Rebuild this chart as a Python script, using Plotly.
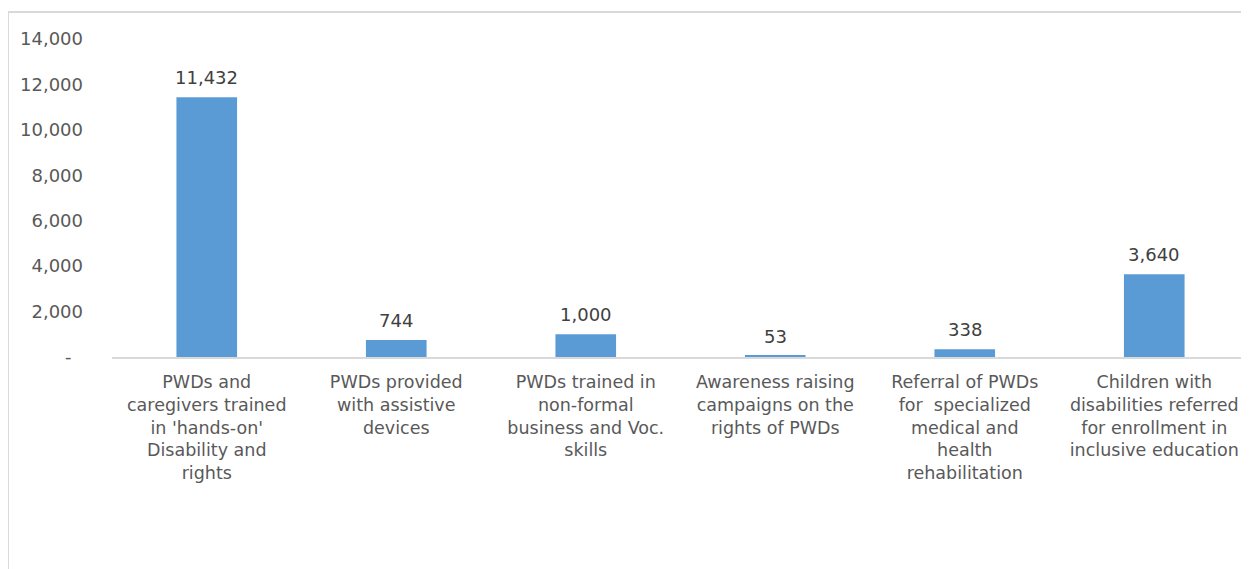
import plotly.graph_objects as go

categories = [
    "PWDs and<br>caregivers trained<br>in 'hands-on'<br>Disability and<br>rights",
    "PWDs provided<br>with assistive<br>devices",
    "PWDs trained in<br>non-formal<br>business and Voc.<br>skills",
    "Awareness raising<br>campaigns on the<br>rights of PWDs",
    "Referral of PWDs<br>for  specialized<br>medical and<br>health<br>rehabilitation",
    "Children with<br>disabilities referred<br>for enrollment in<br>inclusive education",
]
values = [11432, 744, 1000, 53, 338, 3640]
tick_vals = [0, 2000, 4000, 6000, 8000, 10000, 12000, 14000]
tick_text = ["-\u00a0\u00a0", "2,000", "4,000", "6,000", "8,000", "10,000", "12,000", "14,000"]

_BAR = "#5b9bd5"
_TXT = "#595959"
_LINE = "#d9d9d9"
_FONT = "DejaVu Sans, sans-serif"

fig = go.Figure(go.Bar(
    x=categories, y=values, marker=dict(color=_BAR, line=dict(width=0)),
    hoverinfo="skip",
))

# value labels sit a little higher above the bars than plotly's outside text
for cat, v in zip(categories, values):
    fig.add_annotation(x=cat, y=v, text=f"{v:,}", showarrow=False,
                       yanchor="bottom", yshift=7,
                       font=dict(family=_FONT, size=18, color="#404040"))

# page body has an 8px margin, so the figure is shrunk by that much
fig.update_layout(
    width=1241, height=561,
    margin=dict(l=104, r=0, t=31, b=212),
    paper_bgcolor="white", plot_bgcolor="white",
    font=dict(family=_FONT, size=16, color=_TXT),
    showlegend=False,
    bargap=0.68,
    xaxis=dict(showline=True, linecolor=_LINE, linewidth=2, ticks="",
               ticklabelstandoff=8,
               tickfont=dict(size=17.5, color=_TXT), showgrid=False),
    yaxis=dict(range=[0, 14000], tickvals=tick_vals, ticktext=tick_text,
               showgrid=False, zeroline=False, showline=False, ticks="",
               ticklabelstandoff=28, tickfont=dict(size=18, color=_TXT)),
    shapes=[dict(type="rect", xref="paper", yref="paper",
                 x0=-0.0915, x1=1.05, y0=-1.0, y1=1.085,
                 line=dict(color=_LINE, width=2), layer="below")],
)

fig.write_html("out.html")
